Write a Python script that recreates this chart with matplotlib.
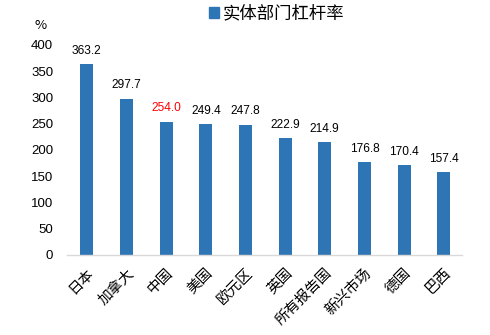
import matplotlib
matplotlib.use('Agg')
import matplotlib.pyplot as plt
from matplotlib.patches import Patch

plt.rcParams['font.family'] = ['Noto Sans CJK SC', 'DejaVu Sans']

# 实体部门杠杆率（%）
countries = ['日本', '加拿大', '中国', '美国', '欧元区', '英国', '所有报告国', '新兴市场', '德国', '巴西']
leverage = [363.2, 297.7, 254.0, 249.4, 247.8, 222.9, 214.9, 176.8, 170.4, 157.4]
highlight = '中国'

bar_color = '#2E75B6'

fig = plt.figure(figsize=(4.9, 3.35), dpi=100)
ax = fig.add_axes([0.137, 0.239, 0.805, 0.627])

x = list(range(len(countries)))
ax.bar(x, leverage, width=0.33, color=bar_color)

for xi, name, v in zip(x, countries, leverage):
    ax.text(xi, v + 14, f'{v:.1f}', ha='center', va='bottom', fontsize=8.6,
            color='#FF0000' if name == highlight else '#000000',
            family=['Liberation Sans', 'DejaVu Sans'])

ax.set_xlim(-0.5, 9.45)
ax.set_ylim(0, 400)
ax.set_yticks(range(0, 401, 50))
ax.set_yticklabels([str(t) for t in range(0, 401, 50)],
                   fontsize=9.5, family=['Liberation Sans', 'DejaVu Sans'])
ax.set_xticks(x)
ax.set_xticklabels(countries, rotation=45, ha='right', va='top',
                   rotation_mode='anchor', fontsize=10.5, fontweight='light')
ax.tick_params(axis='both', length=0)
ax.tick_params(axis='y', pad=10)
ax.tick_params(axis='x', pad=8)

for side in ['top', 'right', 'left']:
    ax.spines[side].set_visible(False)
ax.spines['bottom'].set_color('#D9D9D9')
ax.spines['bottom'].set_linewidth(1)

fig.text(0.082, 0.925, '%', fontsize=9.5, ha='center', va='center')

handles = [Patch(color=bar_color, label='实体部门杠杆率')]
fig.legend(handles=handles, loc='center', bbox_to_anchor=(0.564, 0.96),
           frameon=False, prop={'size': 12.5, 'weight': 'light'},
           handlelength=0.6, handleheight=0.6, handletextpad=0.2)

fig.savefig('out.png', dpi=100)
